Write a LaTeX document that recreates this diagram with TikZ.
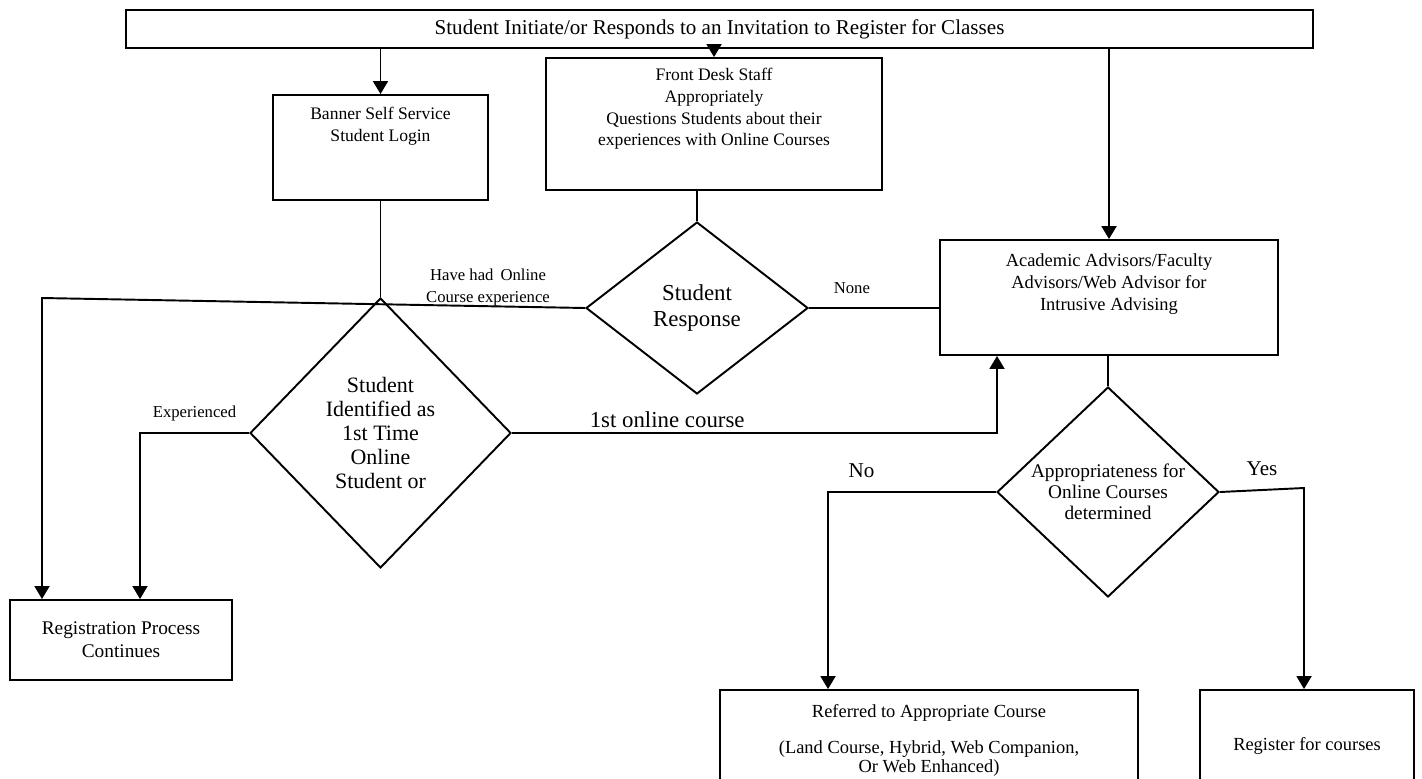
\documentclass[tikz,border=0pt]{standalone}
\usepackage{fontspec}
\setmainfont{Liberation Serif}
\usetikzlibrary{arrows.meta,positioning,shapes.geometric}

\begin{document}
\begin{tikzpicture}[
  x=0.02cm, y=-0.02cm,
  box/.style      = {draw, line width=1.1pt, inner sep=0pt, align=center},
  decision/.style = {draw, diamond, line width=1.1pt, inner sep=0pt, align=center},
  toptext/.style  = {below=#1, align=center, font=\fontsize{10}{12.3}\selectfont},
  lbl/.style      = {font=\fontsize{9.5}{12.5}\selectfont, align=center},
  arrow/.style    = {-{Triangle[length=2.6mm,width=3mm]}, line width=1.1pt},
  link/.style     = {line width=1.1pt}
]
  \useasboundingbox (0,0) rectangle (1422,778);
  \clip (0,0) rectangle (1422,778);

  % boxes
  \node[box, line width=1.5pt, minimum width=23.74cm, minimum height=0.76cm,
        font=\fontsize{12}{14}\selectfont] (start) at (719.5,29)
        {Student Initiate/or Responds to an Invitation to Register for Classes};
  \node[box, minimum width=4.3cm, minimum height=2.1cm,
        label={[toptext=4pt]north:{Banner Self Service\\Student Login}}] (banner) at (380.5,147.5) {};
  \node[box, minimum width=6.72cm, minimum height=2.64cm,
        label={[toptext=3pt]north:{Front Desk Staff\\Appropriately\\Questions Students about their\\experiences with Online Courses}}]
        (front) at (714,124) {};
  \node[box, minimum width=6.76cm, minimum height=2.3cm,
        label={[toptext=5pt, font=\fontsize{10.5}{12.3}\selectfont]north:{Academic Advisors/Faculty\\Advisors/Web Advisor for\\Intrusive Advising}}]
        (academic) at (1109,297.5) {};
  \node[box, minimum width=4.44cm, minimum height=1.6cm,
        font=\fontsize{11}{13}\selectfont] (reg) at (121,640) {Registration Process\\Continues};
  \node[box, minimum width=8.36cm, minimum height=2.2cm,
        label={[toptext=5pt, font=\fontsize{10.5}{10.5}\selectfont]north:{Referred to Appropriate Course\\[10.5pt](Land Course, Hybrid, Web Companion,\\Or Web Enhanced)}}]
        (referred) at (929,745) {};
  \node[box, minimum width=4.28cm, minimum height=2.2cm,
        label={[toptext=24pt, font=\fontsize{10.5}{12}\selectfont]north:{Register for courses}}]
        (register) at (1307,745) {};

  % decisions
  \node[decision, minimum width=4.44cm, minimum height=3.44cm,
        font=\fontsize{13}{15}\selectfont] (resp) at (697,308) {Student\\Response};
  \node[decision, minimum width=5.22cm, minimum height=5.4cm,
        font=\fontsize{12.5}{13.6}\selectfont] (ident) at (380.5,433)
        {Student\\Identified as\\1st Time\\Online\\Student or};
  \node[decision, minimum width=4.44cm, minimum height=3.9cm,
        font=\fontsize{11}{12}\selectfont] (approp) at (1108,492)
        {Appropriateness for\\Online Courses\\determined};

  % bends
  \coordinate (bendA) at (42,298);
  \coordinate (bendB) at (140,433);
  \coordinate (bendC) at (997,433);
  \coordinate (bendD) at (828,492);
  \coordinate (bendE) at (1304,488);

  % connectors
  \draw[arrow] (start.south -| banner) -- (banner);
  \draw[arrow] (start.south -| front) -- (front);
  \draw[arrow] (start.south -| academic) -- (academic);
  \draw[link] (front.south -| resp.north) -- (resp.north);
  \draw[link] (banner.south) -- (ident.north);
  \draw[arrow] (resp.west) -- (bendA) -- (bendA |- reg.north);
  \node[lbl] (hadexp) at (488,287) {Have had \,Online\\Course experience};
  \draw[link] (resp.east) -- node[lbl, pos=0.33, above=4pt] (none) {None} (resp.east -| academic.west);
  \draw[arrow] (ident.east) -- node[pos=0.32, above=-1pt, font=\fontsize{13}{15}\selectfont] (first) {1st online course}
    (bendC) -- (bendC |- academic.south);
  \draw[arrow] (ident.west) -- node[lbl, above=3pt] (exper) {Experienced} (bendB) -- (bendB |- reg.north);
  \draw[link] (approp.north |- academic.south) -- (approp.north);
  \draw[arrow] (approp.west) -- node[pos=0.8, above=4pt, font=\fontsize{12}{14}\selectfont] (no) {No}
    (bendD) -- (bendD |- referred.north);
  \draw[arrow] (approp.east) -- node[pos=0.5, above=4pt, font=\fontsize{12}{14}\selectfont] (yes) {Yes}
    (bendE) -- (bendE |- register.north);
\end{tikzpicture}
\end{document}
